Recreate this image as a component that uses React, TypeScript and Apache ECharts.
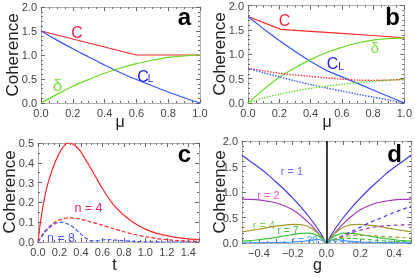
import { useEffect, useRef } from "react";
import * as echarts from "echarts";

const FONT = "'Liberation Sans', Arial, Helvetica, sans-serif";

// ---------- Panel a ----------
const muA = [0, 0.1, 0.2, 0.3, 0.4, 0.5, 0.6, 0.7, 0.8, 0.9, 1.0];
const aC = [1.5, 1.417, 1.333, 1.25, 1.167, 1.083, 1.0, 1.0, 1.0, 1.0, 1.0];
const aCL = [1.5, 1.31, 1.13, 0.96, 0.79, 0.63, 0.49, 0.36, 0.23, 0.11, 0];
const aDelta = [0, 0.18, 0.35, 0.49, 0.62, 0.73, 0.82, 0.89, 0.95, 0.98, 1.0];

// ---------- Panel b ----------
const muB = [0, 0.1, 0.2, 0.3, 0.4, 0.5, 0.6, 0.7, 0.8, 0.9, 1.0];
const muBC = [0, 0.21, 0.4, 0.6, 0.8, 1.0];
const bC = [1.775, 1.51, 1.47, 1.43, 1.385, 1.335];
const bCL = [1.775, 1.52, 1.28, 1.06, 0.85, 0.67, 0.536, 0.402, 0.268, 0.134, 0];
const bDelta = [0, 0.28, 0.53, 0.72, 0.89, 1.03, 1.14, 1.23, 1.29, 1.32, 1.335];
const bCdot = [0.71, 0.66, 0.61, 0.575, 0.545, 0.515, 0.49, 0.47, 0.465, 0.47, 0.485];
const bCLdot = [0.71, 0.62, 0.535, 0.455, 0.38, 0.31, 0.245, 0.18, 0.12, 0.06, 0];
const bDeltaDot = [0, 0.1, 0.18, 0.245, 0.3, 0.345, 0.385, 0.42, 0.445, 0.468, 0.485];

// ---------- Panel c ----------
const tC1 = [0, 0.02, 0.04, 0.06, 0.08, 0.1, 0.15, 0.2, 0.25, 0.28, 0.32, 0.36, 0.4, 0.45, 0.5, 0.6, 0.7, 0.8, 0.9, 1.0, 1.1, 1.2, 1.3, 1.4, 1.5];
const cN4 = [0, 0.09, 0.16, 0.22, 0.27, 0.31, 0.39, 0.45, 0.49, 0.5, 0.495, 0.48, 0.455, 0.41, 0.365, 0.27, 0.19, 0.135, 0.095, 0.065, 0.045, 0.032, 0.022, 0.016, 0.012];
const tC2 = [0, 0.05, 0.1, 0.15, 0.2, 0.25, 0.3, 0.35, 0.4, 0.5, 0.6, 0.7, 0.8, 0.9, 1.0, 1.1, 1.2, 1.3, 1.4, 1.5];
const cN4dash = [0, 0.045, 0.075, 0.097, 0.112, 0.12, 0.122, 0.12, 0.115, 0.1, 0.085, 0.068, 0.052, 0.038, 0.027, 0.018, 0.012, 0.007, 0.004, 0.003];
const tC3 = [0, 0.05, 0.1, 0.15, 0.2, 0.25, 0.3, 0.35, 0.4, 0.45, 0.5, 0.55, 0.6, 0.65, 0.7, 0.8, 0.9, 1.0, 1.2, 1.5];
const cN8dash = [0, 0.04, 0.07, 0.09, 0.1, 0.097, 0.085, 0.065, 0.04, 0.018, 0.006, 0.006, 0.01, 0.012, 0.011, 0.006, 0.003, 0.001, 0, 0];

// ---------- Panel d ----------
const gAbs = [0, 0.025, 0.05, 0.1, 0.15, 0.2, 0.25, 0.3, 0.35, 0.4, 0.45, 0.5];
const dR1 = [0, 0.14, 0.27, 0.5, 0.7, 0.88, 1.05, 1.2, 1.35, 1.48, 1.6, 1.72];
const dR2 = [0, 0.1, 0.2, 0.38, 0.53, 0.65, 0.73, 0.79, 0.82, 0.845, 0.855, 0.86];
const dR4 = [0, 0.1, 0.19, 0.31, 0.36, 0.365, 0.35, 0.33, 0.3, 0.27, 0.245, 0.22];
const dR7 = [0, 0.08, 0.14, 0.195, 0.19, 0.165, 0.14, 0.11, 0.085, 0.065, 0.045, 0.035];
const dR20 = [0, 0.05, 0.07, 0.05, 0.03, 0.02, 0.014, 0.01, 0.008, 0.006, 0.005, 0.004];
const dR1dash = [0, 0.035, 0.07, 0.15, 0.23, 0.31, 0.39, 0.46, 0.53, 0.6, 0.66, 0.72];
const dR2dash = [0, 0.035, 0.07, 0.14, 0.2, 0.25, 0.29, 0.32, 0.34, 0.35, 0.355, 0.36];
const dR4dash = [0, 0.04, 0.07, 0.12, 0.145, 0.15, 0.145, 0.135, 0.125, 0.115, 0.105, 0.1];
const dR7dash = [0, 0.04, 0.065, 0.09, 0.09, 0.08, 0.065, 0.05, 0.04, 0.03, 0.025, 0.02];
const dR20dash = [0, 0.025, 0.035, 0.025, 0.015, 0.01, 0.007, 0.005, 0.004, 0.003, 0.002, 0.002];

const pairs = (xs: number[], ys: number[]) => xs.map((x, i) => [x, ys[i]]);
const sym = (xs: number[], ys: number[]) => {
  const out: number[][] = [];
  for (let i = xs.length - 1; i >= 1; i--) out.push([-xs[i], ys[i]]);
  for (let i = 0; i < xs.length; i++) out.push([xs[i], ys[i]]);
  return out;
};

const grids = [
  { left: 41, top: 7, width: 159, height: 96 },
  { left: 248, top: 5, width: 159, height: 98 },
  { left: 38, top: 143, width: 161, height: 99 },
  { left: 242, top: 141, width: 169, height: 102 },
];

const LINE = "#b0b0b0";
const TICK = "#666666";

type AxCfg = { min: number; max: number; interval: number; minor: number; fmt: (v: number) => string; hideMax?: boolean };

const fmt1 = (v: number) => v.toFixed(1);
const fmtD = (v: number) => {
  const k = Math.round(v * 10);
  if (k % 2 !== 0) return "";
  if (k === 0) return "0.0";
  return (k < 0 ? "\u2212" : "") + Math.abs(v).toFixed(1);
};

function xAxes(i: number, c: AxCfg) {
  const base = {
    gridIndex: i,
    type: "value",
    min: c.min,
    max: c.max,
    interval: c.interval,
    splitLine: { show: false },
    axisLine: { show: true, onZero: false, lineStyle: { color: LINE, width: 1 } },
    axisTick: { show: true, inside: true, length: 4, lineStyle: { color: TICK } },
    minorTick: { show: true, splitNumber: c.minor, length: 2, lineStyle: { color: TICK } },
  };
  return [
    {
      ...base,
      position: "bottom",
      axisLabel: { show: true, fontSize: 11, color: "#444", fontFamily: FONT, margin: 4, formatter: c.fmt, showMaxLabel: !c.hideMax },
    },
    { ...base, position: "top", axisLabel: { show: false } },
  ];
}

function yAxes(i: number, c: AxCfg) {
  const base = {
    gridIndex: i,
    type: "value",
    min: c.min,
    max: c.max,
    interval: c.interval,
    splitLine: { show: false },
    axisLine: { show: true, onZero: false, lineStyle: { color: LINE, width: 1 } },
    axisTick: { show: true, inside: true, length: 4, lineStyle: { color: TICK } },
    minorTick: { show: true, splitNumber: c.minor, length: 2, lineStyle: { color: TICK } },
  };
  return [
    {
      ...base,
      position: "left",
      axisLabel: { show: true, fontSize: 11, color: "#444", fontFamily: FONT, margin: 4, formatter: c.fmt },
    },
    { ...base, position: "right", axisLabel: { show: false } },
  ];
}

function line(i: number, data: number[][], color: string, type: any = "solid", width = 1.2, smooth: boolean = true, extra: any = {}) {
  return {
    type: "line",
    xAxisIndex: 2 * i,
    yAxisIndex: 2 * i,
    data,
    showSymbol: false,
    symbol: "none",
    smooth: smooth ? 0.3 : false,
    lineStyle: { color, width, type },
    itemStyle: { color },
    silent: true,
    ...extra,
  };
}

const RED = "#ff2a2a";
const BLUE = "#3355ff";
const GREEN = "#66dd22";

const C1 = "#3c3cf5";
const C2 = "#a03cb4";
const C4 = "#a09a28";
const C7 = "#3cc83c";
const C20 = "#4b9bff";

function txt(text: string, x: number, y: number, fontSize: number, color: string, bold = false, rotation = 0) {
  return {
    type: "text",
    x,
    y,
    rotation,
    silent: true,
    style: {
      text,
      fontSize,
      fontFamily: FONT,
      fontWeight: bold ? "bold" : "normal",
      fill: color,
      align: "center",
      verticalAlign: "middle",
    },
  };
}

export default function App() {
  const ref = useRef<HTMLDivElement>(null);
  useEffect(() => {
    if (!ref.current) return;
    const chart = echarts.init(ref.current, undefined, { renderer: "svg" });
    const axA: AxCfg = { min: 0, max: 1, interval: 0.2, minor: 4, fmt: fmt1 };
    const axY2: AxCfg = { min: 0, max: 2, interval: 0.5, minor: 5, fmt: fmt1 };
    const axCx: AxCfg = { min: 0, max: 1.5, interval: 0.2, minor: 4, fmt: fmt1, hideMax: true };
    const axCy: AxCfg = { min: 0, max: 0.5, interval: 0.1, minor: 2, fmt: fmt1 };
    const axDx: AxCfg = { min: -0.5, max: 0.5, interval: 0.1, minor: 2, fmt: fmtD };

    const option: any = {
      animation: false,
      grid: grids.map((g) => ({ ...g, containLabel: false })),
      xAxis: [...xAxes(0, axA), ...xAxes(1, axA), ...xAxes(2, axCx), ...xAxes(3, axDx)],
      yAxis: [...yAxes(0, axY2), ...yAxes(1, axY2), ...yAxes(2, axCy), ...yAxes(3, axY2)],
      series: [
        // a
        line(0, pairs(muA, aC), RED, "solid", 1.2, false),
        line(0, pairs(muA, aCL), BLUE),
        line(0, pairs(muA, aDelta), GREEN),
        // b
        line(1, pairs(muBC, bC), RED, "solid", 1.2, false),
        line(1, pairs(muB, bCL), BLUE, "solid", 1.2, false),
        line(1, pairs(muB, bDelta), GREEN),
        line(1, pairs(muB, bCdot), RED, "dotted", 1.4),
        line(1, pairs(muB, bCLdot), BLUE, "dotted", 1.4),
        line(1, pairs(muB, bDeltaDot), GREEN, "dotted", 1.4),
        // c
        line(2, pairs(tC1, cN4), RED),
        line(2, pairs(tC2, cN4dash), RED, [4, 2]),
        line(2, pairs(tC3, cN8dash), "#4455ff", [4, 2]),
        // d
        line(3, sym(gAbs, dR1), C1, "solid", 1.2, true, {
          markLine: {
            symbol: "none",
            silent: true,
            label: { show: false },
            lineStyle: { color: "#000", width: 1.5, type: "solid" },
            data: [{ xAxis: 0 }],
          },
        }),
        line(3, sym(gAbs, dR2), C2),
        line(3, sym(gAbs, dR4), C4),
        line(3, sym(gAbs, dR7), C7),
        line(3, sym(gAbs, dR20), C20),
        line(3, pairs(gAbs, dR1dash), C1, [4, 3]),
        line(3, pairs(gAbs, dR2dash), C2, [4, 3]),
        line(3, pairs(gAbs, dR4dash), C4, [4, 3]),
        line(3, pairs(gAbs, dR7dash), C7, [4, 3]),
        line(3, pairs(gAbs, dR20dash), C20, [4, 3]),
      ],
      graphic: [
        // axis titles
        txt("Coherence", 12, 55, 17, "#222", false, Math.PI / 2),
        txt("Coherence", 219, 54, 17, "#222", false, Math.PI / 2),
        txt("Coherence", 9, 192, 17, "#222", false, Math.PI / 2),
        txt("Coherence", 219, 192, 17, "#222", false, Math.PI / 2),
        txt("\u03bc", 120, 121, 16, "#222"),
        txt("\u03bc", 327, 121, 16, "#222"),
        txt("t", 114.5, 264, 16, "#222"),
        txt("g", 317.5, 264, 16, "#222"),
        // panel letters
        txt("a", 184.5, 16.7, 24, "#000", true),
        txt("b", 392.5, 16.7, 24, "#000", true),
        txt("c", 184.5, 153.7, 24, "#000", true),
        txt("d", 394.5, 153.7, 24, "#000", true),
        // panel a labels
        txt("C", 77, 32.5, 16, "#ff2244"),
        txt("C", 143, 76.5, 16, "#2222dd"),
        txt("L", 150.5, 78.5, 10, "#2222dd"),
        txt("\u03b4", 57.5, 85, 17, "#80e040"),
        // panel b labels
        txt("C", 284.5, 20.5, 16, "#ff2244"),
        txt("C", 332.5, 63.5, 16, "#2222dd"),
        txt("L", 341, 66.5, 10, "#2222dd"),
        txt("\u03b4", 375, 47.5, 15, "#80e040"),
        // panel c labels
        txt("n = 4", 88.5, 207.7, 12.5, "#e0207a"),
        txt("n = 8", 61, 237.7, 12.5, "#4a5aff"),
        // panel d labels
        txt("r = 1", 292, 171.2, 11, "#6a6aff"),
        txt("r = 2", 268.5, 195.2, 11, "#ff50d0"),
        txt("r = 4", 264, 225.2, 11, "#7ad060"),
        txt("r = 7", 288, 229.5, 10.5, "#40c040"),
        txt("r = 20", 305, 240.2, 10, "#50a0ff"),
      ],
    };
    chart.setOption(option);
    return () => chart.dispose();
  }, []);
  return <div ref={ref} style={{ position: "fixed", left: 0, top: 0, width: 415, height: 278 }} />;
}
